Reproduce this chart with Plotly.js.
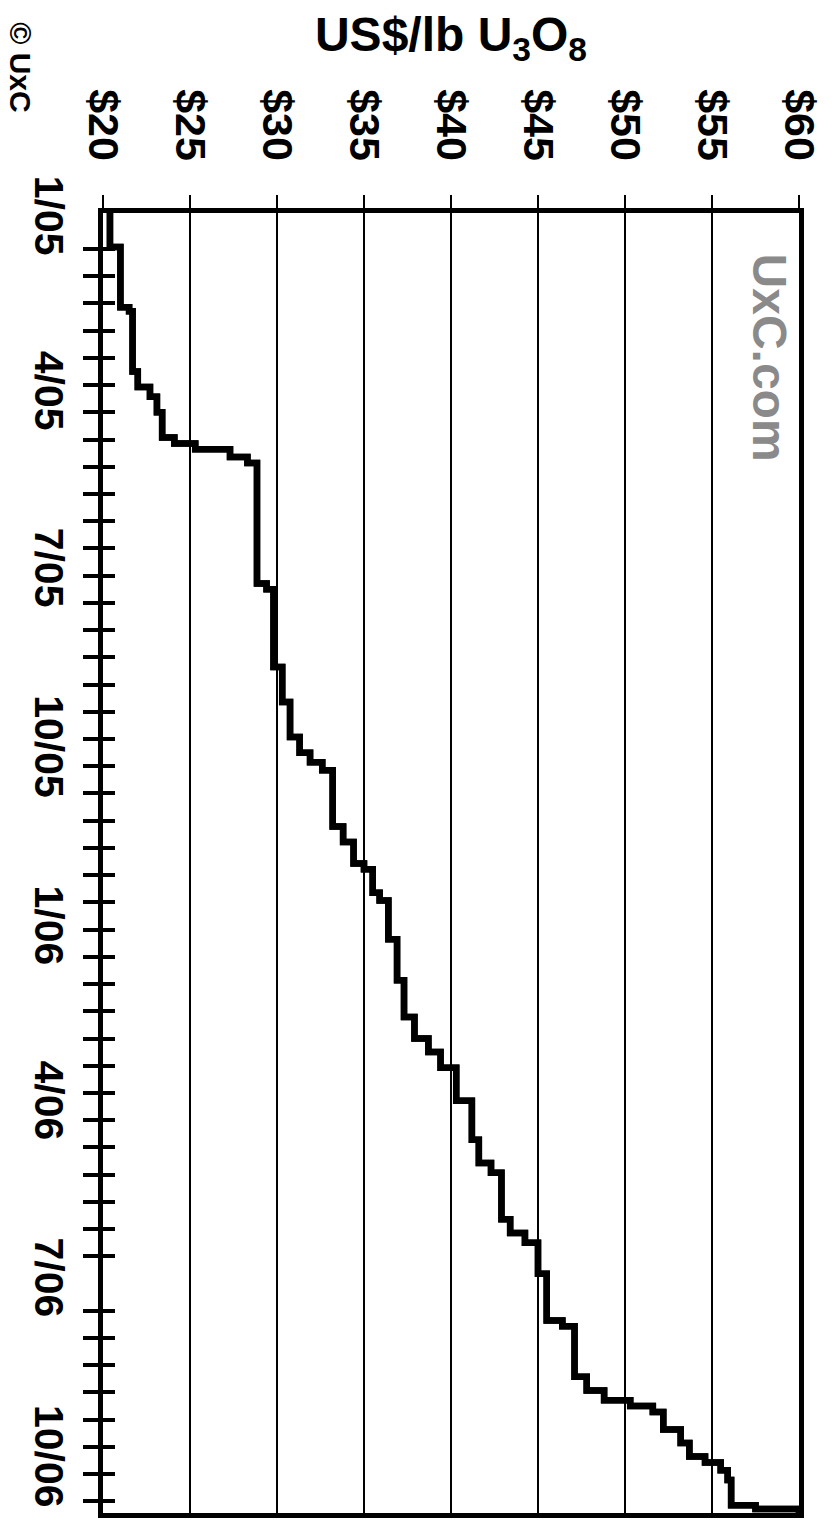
<!DOCTYPE html>
<html>
<head>
<meta charset="utf-8">
<script src="https://cdn.plot.ly/plotly-3.0.1.min.js"></script>
<style>
  html, body { margin: 0; padding: 0; background: #ffffff; }
  #chart { width: 834px; height: 1529px; }
</style>
</head>
<body>
<div id="chart"></div>
<script>
// Spot price step changes (date the price took effect, US$/lb U3O8)
const priceDates = [
  '2004-12-27','2005-01-14','2005-02-14','2005-02-16','2005-03-19','2005-03-27',
  '2005-04-01','2005-04-09','2005-04-22','2005-04-25','2005-04-28','2005-05-02',
  '2005-05-05','2005-07-06','2005-07-09','2005-08-18','2005-09-05','2005-09-23',
  '2005-10-01','2005-10-06','2005-10-10','2005-11-08','2005-11-16','2005-11-27',
  '2005-11-30','2005-12-12','2005-12-16','2006-01-05','2006-01-26','2006-02-14',
  '2006-02-25','2006-03-04','2006-03-12','2006-03-29','2006-04-18','2006-04-30',
  '2006-05-05','2006-05-29','2006-06-05','2006-06-10','2006-06-26','2006-07-20',
  '2006-07-23','2006-08-18','2006-08-25','2006-08-30','2006-09-02','2006-09-05',
  '2006-09-14','2006-09-21','2006-09-28','2006-10-01','2006-10-05','2006-10-10',
  '2006-10-23','2006-10-25','2006-10-28'
];
const priceValues = [
  20.4, 21.0, 21.5, 21.7, 22.0, 22.7,
  23.1, 23.4, 24.1, 25.3, 27.3, 28.3,
  28.85, 29.4, 29.8, 30.3, 30.75, 31.3,
  31.9, 32.6, 33.2, 33.8, 34.4, 35.0,
  35.5, 35.9, 36.4, 36.9, 37.3, 37.9,
  38.7, 39.4, 40.3, 41.2, 41.6, 42.3,
  42.9, 43.4, 44.25, 45.0, 45.5, 46.4,
  47.1, 47.8, 48.8, 50.3, 51.6, 52.2,
  53.2, 53.7, 54.6, 55.5, 55.9, 56.1,
  57.5, 60, 60
];
const priceRange = [20, 60];
const dateRange = ['2006-10-27', '2004-12-27 12:00']; // reversed: top is start
const axisTitle = 'US$/lb U<sub>3</sub>O<sub>8</sub>';
const copyrightText = '© UxC';
const watermarkText = 'UxC.com';

const bold = '"Liberation Sans", Arial, sans-serif';

const lineTrace = {
  type: 'scatter', mode: 'lines',
  x: priceValues, y: priceDates,
  xaxis: 'x', yaxis: 'y',
  line: { color: '#000000', width: 6.5, shape: 'vh' },
  hoverinfo: 'skip', showlegend: false
};
const tickTrace = Object.assign({}, lineTrace, { yaxis: 'y2' });

const layout = {
  width: 834, height: 1529,
  margin: { l: 103, r: 35, t: 213, b: 16 },
  paper_bgcolor: '#ffffff', plot_bgcolor: '#ffffff',
  showlegend: false,
  xaxis: {
    side: 'top', range: priceRange, dtick: 5, tick0: 20,
    tickprefix: '$', tickangle: 90,
    tickfont: { family: bold, size: 43, color: '#000', weight: 700 },
    ticks: 'outside', ticklen: 13, tickwidth: 2, tickcolor: '#000',
    ticklabelstandoff: 19,
    showgrid: true, gridcolor: '#000', gridwidth: 1.5,
    zeroline: false,
    showline: true, linecolor: '#000', linewidth: 5, mirror: true,
    title: { text: axisTitle, standoff: 24,
             font: { family: bold, size: 48, color: '#000', weight: 700 } },
    fixedrange: true
  },
  yaxis: {
    type: 'date', range: dateRange,
    dtick: 'M3', tick0: '2005-01-01', tickformat: '%-m/%y',
    tickangle: 90,
    tickfont: { family: bold, size: 41, color: '#000', weight: 700 },
    ticks: '', ticklabelstandoff: 14,
    minor: { ticks: 'outside', ticklen: 15, tickwidth: 4, tickcolor: '#000',
             dtick: 1209600000, tick0: '2005-01-01', showgrid: false },
    showgrid: false, zeroline: false,
    showline: true, linecolor: '#000', linewidth: 5, mirror: true,
    fixedrange: true
  },
  yaxis2: {
    type: 'date', range: dateRange, overlaying: 'y', side: 'left', anchor: 'x',
    dtick: 'M3', tick0: '2005-01-01',
    showticklabels: false, ticks: '',
    minor: { ticks: 'inside', ticklen: 12, tickwidth: 4, tickcolor: '#000',
             dtick: 1209600000, tick0: '2005-01-01', showgrid: false },
    showgrid: false, zeroline: false, showline: false,
    fixedrange: true
  },
  annotations: [
    { text: copyrightText, xref: 'paper', yref: 'paper',
      x: -0.119, y: 1.112, xanchor: 'center', yanchor: 'middle',
      textangle: 90, showarrow: false,
      font: { family: bold, size: 30, color: '#000', weight: 700 } },
    { text: watermarkText, xref: 'paper', yref: 'paper',
      x: 0.958, y: 0.889, xanchor: 'center', yanchor: 'middle',
      textangle: 90, showarrow: false,
      font: { family: bold, size: 48, color: '#8a8a8a', weight: 700 } }
  ]
};

Plotly.newPlot('chart', [lineTrace, tickTrace], layout, { staticPlot: true, displayModeBar: false });
</script>
</body>
</html>
